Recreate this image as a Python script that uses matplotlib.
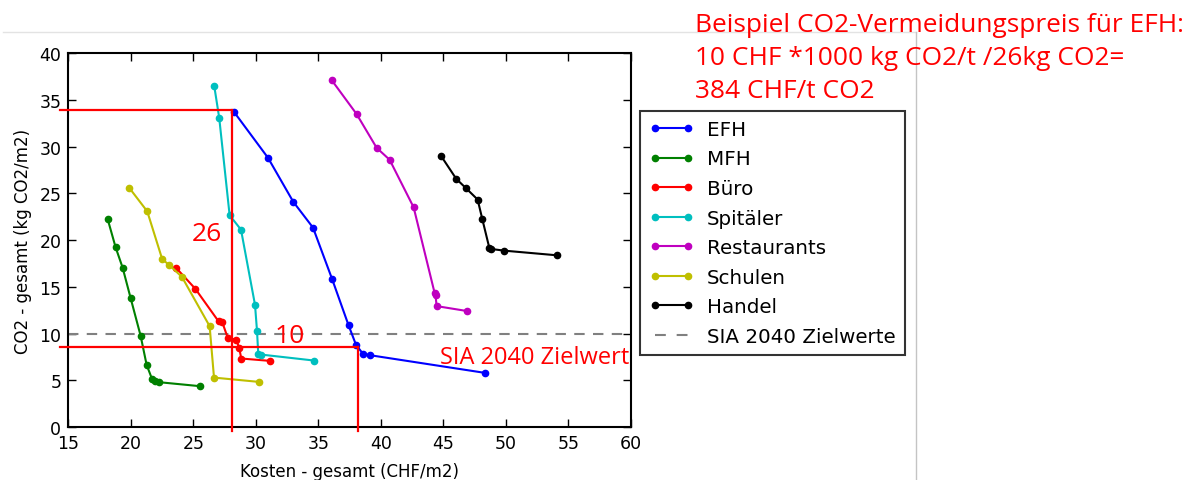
import matplotlib
matplotlib.use("Agg")
import matplotlib.pyplot as plt
from matplotlib.lines import Line2D

# Kosten (CHF/m2) and CO2 (kg CO2/m2) per building category
efh_cost = [28.28, 30.98, 33.0, 34.58, 36.12, 37.43, 38.02, 38.58, 39.16, 48.36]
efh_co2 = [33.67, 28.8, 24.1, 21.34, 15.8, 10.88, 8.81, 7.85, 7.7, 5.81]

mfh_cost = [18.15, 18.79, 19.35, 19.99, 20.79, 21.27, 21.7, 21.94, 22.26, 25.56]
mfh_co2 = [22.27, 19.23, 17.06, 13.81, 9.78, 6.67, 5.17, 4.99, 4.82, 4.39]

buero_cost = [23.64, 25.16, 27.03, 27.32, 27.75, 28.44, 28.68, 28.84, 31.11]
buero_co2 = [17.02, 14.81, 11.31, 11.24, 9.59, 9.35, 8.46, 7.35, 7.10]

spital_cost = [26.68, 27.08, 27.91, 28.82, 29.94, 30.1, 30.2, 30.44, 34.68]
spital_co2 = [36.47, 33.04, 22.66, 21.12, 13.09, 10.31, 7.85, 7.77, 7.13]

rest_cost = [36.07, 38.07, 39.67, 40.71, 42.63, 44.3, 44.38, 44.47, 46.92]
rest_co2 = [37.11, 33.47, 29.87, 28.59, 23.51, 14.4, 14.1, 12.95, 12.42]

schul_cost = [19.88, 21.32, 22.52, 23.08, 24.1, 26.31, 26.66, 30.26]
schul_co2 = [25.59, 23.08, 17.95, 17.35, 16.06, 10.81, 5.31, 4.85]

handel_cost = [44.82, 46.04, 46.79, 47.75, 48.12, 48.68, 48.82, 49.86, 54.1]
handel_co2 = [29.01, 26.55, 25.59, 24.34, 22.27, 19.2, 19.06, 18.88, 18.38]

series_names = ["EFH", "MFH", "Büro", "Spitäler", "Restaurants", "Schulen", "Handel"]
series_cost = [efh_cost, mfh_cost, buero_cost, spital_cost, rest_cost, schul_cost, handel_cost]
series_co2 = [efh_co2, mfh_co2, buero_co2, spital_co2, rest_co2, schul_co2, handel_co2]
series_colors = ["b", "g", "r", "c", "m", "y", "k"]

sia_target = 10
# EFH reading example: start point and point on the target
efh_start = (28.12, 33.9)
efh_target = (38.15, 8.56)

x_ticks = [15, 20, 25, 30, 35, 40, 45, 50, 55, 60]
y_ticks = [0, 5, 10, 15, 20, 25, 30, 35, 40]

title_lines = [
    "Beispiel CO2-Vermeidungspreis für EFH:",
    "10 CHF *1000 kg CO2/t /26kg CO2=",
    "384 CHF/t CO2",
]

plt.rcParams["font.family"] = ["DejaVu Sans"]
fig = plt.figure(figsize=(11.89, 4.81), dpi=100)
ax = fig.add_axes([0.0574, 0.1096, 0.4731, 0.7781])

classic = {"b": (0, 0, 1), "g": (0, 0.5, 0), "r": (1, 0, 0), "c": (0, 0.75, 0.75),
           "m": (0.75, 0, 0.75), "y": (0.75, 0.75, 0), "k": (0, 0, 0)}

for name, xs, ys, c in zip(series_names, series_cost, series_co2, series_colors):
    ax.plot(xs, ys, "-o", color=classic[c], lw=1.5, ms=4.5, label=name, zorder=3)

ax.axhline(sia_target, color="gray", ls=(0, (5, 4)), lw=1.5, label="SIA 2040 Zielwerte", zorder=2)

ax.set_xlim(15, 60)
ax.set_ylim(0, 40)
ax.set_xticks(x_ticks)
ax.set_yticks(y_ticks)
ax.tick_params(direction="in", top=True, right=True, length=6, width=1, labelsize=12.5, pad=5)
for s in ax.spines.values():
    s.set_linewidth(1.5)
ax.set_xlabel("Kosten - gesamt (CHF/m2)", fontsize=12, labelpad=7)
ax.set_ylabel("CO2 - gesamt (kg CO2/m2)", fontsize=12, labelpad=5)

leg = ax.legend(loc="upper left", bbox_to_anchor=(1.0164, 0.845), borderaxespad=0,
                fontsize=14.3, frameon=True, fancybox=False, edgecolor="black",
                borderpad=0.45, labelspacing=0.53, handlelength=2.25, handletextpad=0.68,
                numpoints=2)
leg.get_frame().set_linewidth(1.5)
leg.get_lines()[-1].set_linestyle((0, (5.2, 5.2)))

# red reading lines for the EFH example
x_left = 15 - 8 / 12.5
y_low = -0.4
red = (1, 0, 0)
for (px, py) in [efh_start, efh_target]:
    ax.plot([x_left, px], [py, py], color=red, lw=1.6, clip_on=False, zorder=4)
    ax.plot([px, px], [py, y_low], color=red, lw=1.6, clip_on=False, zorder=4)

ax.text(27.3, 20.75, "26", color=red, fontsize=19, family="Open Sans", ha="right", va="center")
ax.text(32.7, 9.83, "10", color=red, fontsize=19, family="Open Sans", ha="center", va="center")
ax.text(59.9, 7.5, "SIA 2040 Zielwert", color=red, fontsize=17, family="Open Sans",
        ha="right", va="center")

# slide frame lines
fig.add_artist(Line2D([3 / 1189, 916 / 1189], [1 - 33 / 481] * 2, color="#e3e3e3", lw=1))
fig.add_artist(Line2D([916 / 1189] * 2, [0, 1 - 33 / 481], color="#c4c4c4", lw=1))

for i, line in enumerate(title_lines):
    fig.text(695 / 1189, 1 - (32 + 33 * i) / 481, line, color=red, fontsize=18.9,
             family="Open Sans", ha="left", va="baseline")

fig.savefig("out.png", dpi=100)
